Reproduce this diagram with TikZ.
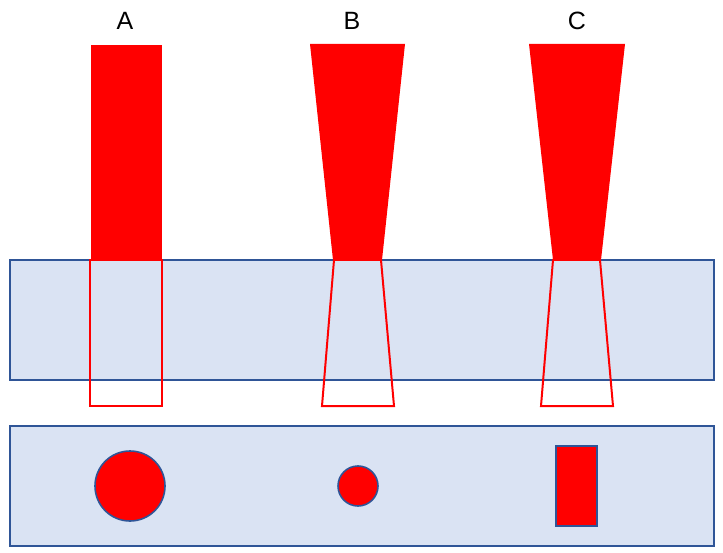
\documentclass[tikz,border=0pt]{standalone}
\usepackage{fontspec}
\setmainfont{Liberation Sans}
\definecolor{bandfill}{HTML}{DAE3F3}
\definecolor{bandline}{HTML}{2F5597}
\definecolor{beamred}{HTML}{FF0000}
\begin{document}
\begin{tikzpicture}[x=1pt,y=-1pt,
  band/.style={fill=bandfill,draw=bandline,line width=2pt},
  beam/.style={fill=beamred},
  ghost/.style={draw=beamred,line width=2pt,line join=miter},
  spot/.style={fill=beamred,draw=bandline,line width=1.6pt},
  lbl/.style={font=\fontsize{25}{28}\selectfont,inner sep=0pt}]
\useasboundingbox (0,0) rectangle (723,553);
% bands
\draw[band] (10,260) rectangle (714,380);
\draw[band] (10,426) rectangle (714,546);
% beams
\fill[beam] (91,45) rectangle (162,260);
\fill[beam] (310,44) -- (405,44) -- (382,260) -- (333,260) -- cycle;
\fill[beam] (529,44) -- (625,44) -- (601,260) -- (553,260) -- cycle;
% outlines in the material
\draw[ghost] (90,260) rectangle (162,406);
\draw[ghost] (334,260) -- (381,260) -- (394,406) -- (322,406) -- cycle;
\draw[ghost] (553,260) -- (600,260) -- (613,406) -- (541,406) -- cycle;
% spots
\draw[spot] (130,486) circle (35);
\draw[spot] (358,486) circle (20);
\draw[spot] (556,446) rectangle (597,526);
% labels
\node[lbl] (la) at (125,21) {A};
\node[lbl] (lb) at (352,21) {B};
\node[lbl] (lc) at (577,21) {C};
\end{tikzpicture}
\end{document}
